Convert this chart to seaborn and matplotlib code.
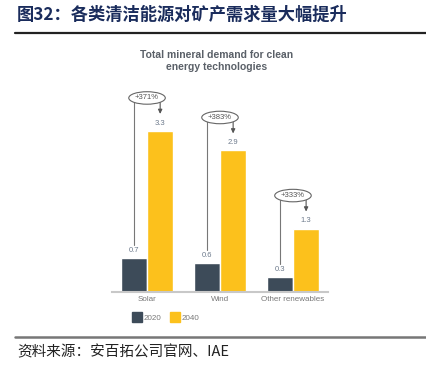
import pandas as pd
import seaborn as sns
import matplotlib.pyplot as plt
from matplotlib.lines import Line2D

# Données
categories = ["Solar", "Wind", "Other renewables"]
years = ["2020", "2040"]
demand_2020 = [0.7, 0.6, 0.3]
demand_2040 = [3.3, 2.9, 1.3]
growth_labels = ["+371%", "+383%", "+333%"]
colors = ["#3d4b59", "#fcc11c"]

title_cn = "图32：各类清洁能源对矿产需求量大幅提升"
chart_title = "Total mineral demand for clean\nenergy technologies"
source_cn = "资料来源：安百拓公司官网、IAE"

sns.set_style("white")
plt.rcParams['font.family'] = ['Liberation Sans', 'Noto Sans CJK SC', 'DejaVu Sans']

df = pd.DataFrame({
    "category": categories * 2,
    "year": [years[0]] * 3 + [years[1]] * 3,
    "demand": demand_2020 + demand_2040,
})

W, H = 427, 368
fig = plt.figure(figsize=(W / 100, H / 100), dpi=100)
ax = fig.add_axes([112 / W, (H - 292) / H, 216 / W, 212 / H])

sns.barplot(data=df, x="category", y="demand", hue="year", palette=colors,
            width=0.72, ax=ax, legend=False, saturation=1)

ymax = 212 / 48.8
ax.set_ylim(0, ymax)
ax.set_xlim(-0.48, 2.48)
ax.set_xlabel("")
ax.set_ylabel("")
ax.set_yticks([])
for s in ["top", "right", "left"]:
    ax.spines[s].set_visible(False)
ax.spines["bottom"].set_color("#c8c8c8")
ax.spines["bottom"].set_linewidth(1.5)
ax.tick_params(axis="x", length=0, pad=3, labelsize=5.8, labelcolor="#777777")

# étiquettes de valeurs
for cont in ax.containers:
    ax.bar_label(cont, fmt="%.1f", padding=3, fontsize=5.5, color="#6d7a8c")

# bulles de croissance
unit = 1 / 48.8  # unités de données par pixel
bars_a = ax.containers[0]
bars_b = ax.containers[1]
for i, lab in enumerate(growth_labels):
    ra, rb = bars_a[i], bars_b[i]
    x1 = ra.get_x() + ra.get_width() / 2
    x2 = rb.get_x() + rb.get_width() / 2
    xc = rb.get_x()
    yo = rb.get_height() + 33 * unit
    ax.plot([x1, x1], [yo, ra.get_height() + 13 * unit], color="#777777", lw=0.8, zorder=3)
    ax.annotate("", xy=(x2, rb.get_height() + 17 * unit), xytext=(x2, yo),
                arrowprops=dict(arrowstyle="-|>,head_length=0.25,head_width=0.12",
                                color="#555555", lw=0.8, shrinkA=0, shrinkB=0), zorder=3)
    ax.text(xc, yo, lab, ha="center", va="center", fontsize=5.5, color="#555555", zorder=5,
            bbox=dict(boxstyle="ellipse,pad=0.12", fc="white", ec="#666666", lw=0.8))

# légende
handles = [Line2D([], [], marker="s", ls="", markersize=7.5, color=c) for c in colors]
fig.legend(handles, years, loc="center left", bbox_to_anchor=(126 / W, 1 - 318 / H),
           ncol=2, frameon=False, fontsize=5.8, labelcolor="#777777",
           handletextpad=0.3, columnspacing=1.2, handlelength=1.0)

# titres
fig.text(217 / W, 1 - 61 / H, chart_title, ha="center", va="center", fontsize=7.5,
         fontweight="bold", color="#5a6068", linespacing=1.15)
fig.text(17 / W, 1 - 15 / H, title_cn, ha="left", va="center", fontsize=12.4,
         fontweight="bold", color="#1a2c5c", family=['Noto Sans CJK SC', 'DejaVu Sans'])
fig.text(17 / W, 1 - 352 / H, source_cn, ha="left", va="center", fontsize=10.5,
         color="#222222", family=['Noto Sans CJK SC', 'DejaVu Sans'])

fig.add_artist(Line2D([15 / W, 1], [1 - 33 / H] * 2, color="#222222", lw=1.6))
fig.add_artist(Line2D([15 / W, 1], [1 - 337 / H] * 2, color="#777777", lw=1.8))

fig.savefig("out.png", dpi=100)
